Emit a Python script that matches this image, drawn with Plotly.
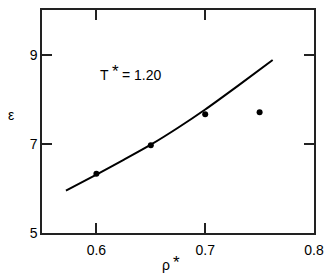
import plotly.graph_objects as go

# Data
curve_rho = [0.572, 0.60, 0.625, 0.65, 0.675, 0.70, 0.73, 0.762]
curve_eps = [5.95, 6.31, 6.64, 6.98, 7.36, 7.77, 8.30, 8.88]
pts_rho = [0.60, 0.65, 0.70, 0.75]
pts_eps = [6.33, 6.97, 7.66, 7.71]
x_ticks = [0.6, 0.7, 0.8]
x_tick_labels = ["0.6", "0.7", "0.8"]
y_ticks = [5, 7, 9]
y_tick_labels = ["5", "7", "9"]

fig = go.Figure()
fig.add_trace(go.Scatter(x=curve_rho, y=curve_eps, mode="lines",
                         line=dict(color="black", width=2, shape="spline", smoothing=0.8),
                         showlegend=False))
fig.add_trace(go.Scatter(x=pts_rho, y=pts_eps, mode="markers",
                         marker=dict(color="black", size=6),
                         showlegend=False))

font = dict(family="Liberation Sans, Arial, sans-serif", size=14, color="black")
star_font = dict(family="Liberation Sans, Arial, sans-serif", size=17, color="black")
axis_common = dict(showline=True, linecolor="#222", linewidth=1.5, mirror="ticks",
                   ticks="inside", ticklen=10, tickwidth=1.5, tickcolor="#222",
                   showgrid=False, zeroline=False, tickfont=font)
fig.update_xaxes(range=[0.55, 0.8], tickvals=x_ticks, ticktext=x_tick_labels,
                 ticklabelstandoff=3, **axis_common)
fig.update_yaxes(range=[5, 10], tickvals=y_ticks, ticktext=y_tick_labels, **axis_common)

# T* = 1.20 label
fig.add_annotation(x=0.6076, y=8.54, xref="x", yref="y", text="T",
                   showarrow=False, font=font, xanchor="center", yanchor="middle")
fig.add_annotation(x=0.6172, y=8.62, xref="x", yref="y", text="*",
                   showarrow=False, font=star_font, xanchor="center", yanchor="middle")
fig.add_annotation(x=0.6215, y=8.54, xref="x", yref="y", text="= 1.20",
                   showarrow=False, font=font, xanchor="left", yanchor="middle")
# axis titles
fig.add_annotation(x=-0.115, y=0.53, xref="paper", yref="paper", text="ε",
                   showarrow=False, font=font, xanchor="center", yanchor="middle")
fig.add_annotation(x=0.456, y=-0.145, xref="paper", yref="paper", text="ρ",
                   showarrow=False, font=font, xanchor="center", yanchor="middle")
fig.add_annotation(x=0.496, y=-0.132, xref="paper", yref="paper", text="*",
                   showarrow=False, font=star_font, xanchor="center", yanchor="middle")

fig.update_layout(width=332, height=276, margin=dict(l=42, r=8, t=8, b=43),
                  paper_bgcolor="white", plot_bgcolor="white", font=font)
fig.write_html("out.html")
